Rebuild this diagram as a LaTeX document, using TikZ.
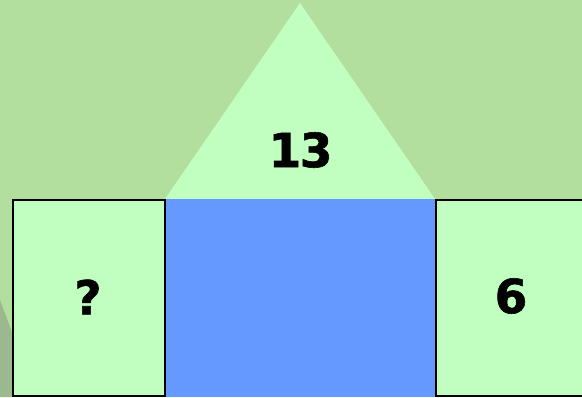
\documentclass[tikz,border=0pt]{standalone}
\usepackage{fontspec}
\setmainfont{DejaVu Sans}[BoldFeatures={FakeBold=1.2}]
\definecolor{bggreen}{HTML}{B3DF9E}
\definecolor{lightgreen}{HTML}{C0FFC0}
\definecolor{midblue}{HTML}{6699FF}
\definecolor{shadegreen}{HTML}{9CB88E}
\tikzset{
  numbox/.style={draw=black, line width=1.5pt, fill=lightgreen, inner sep=0pt, anchor=north west},
  numtext/.style={font=\fontsize{47}{47}\selectfont\bfseries, text=black, inner sep=0pt}
}
\begin{document}
\begin{tikzpicture}[x=1pt,y=-1pt]
\useasboundingbox (0,0) rectangle (582,397);
\fill[bggreen] (0,0) rectangle (582,397);
\fill[shadegreen] (0,300) -- (12,332) -- (12,397) -- (0,397) -- cycle;
\fill[lightgreen] (300,3) -- (435,199) -- (165,199) -- cycle;
\node[fill=midblue, inner sep=0pt, anchor=north west, minimum width=271pt, minimum height=198pt] (mid) at (164,199) {};
\node[numbox, minimum width=152pt, minimum height=196pt] (left) at (12,199) {};
\node[numbox, minimum width=160pt, minimum height=196pt] (right) at (435,199) {};
\node[numtext] (top) at (300.5,150) {1\kern-1.5pt3};
\node[numtext] (q) at (88,297) {?};
\node[numtext] (six) at (511,296) {6};
\end{tikzpicture}
\end{document}
